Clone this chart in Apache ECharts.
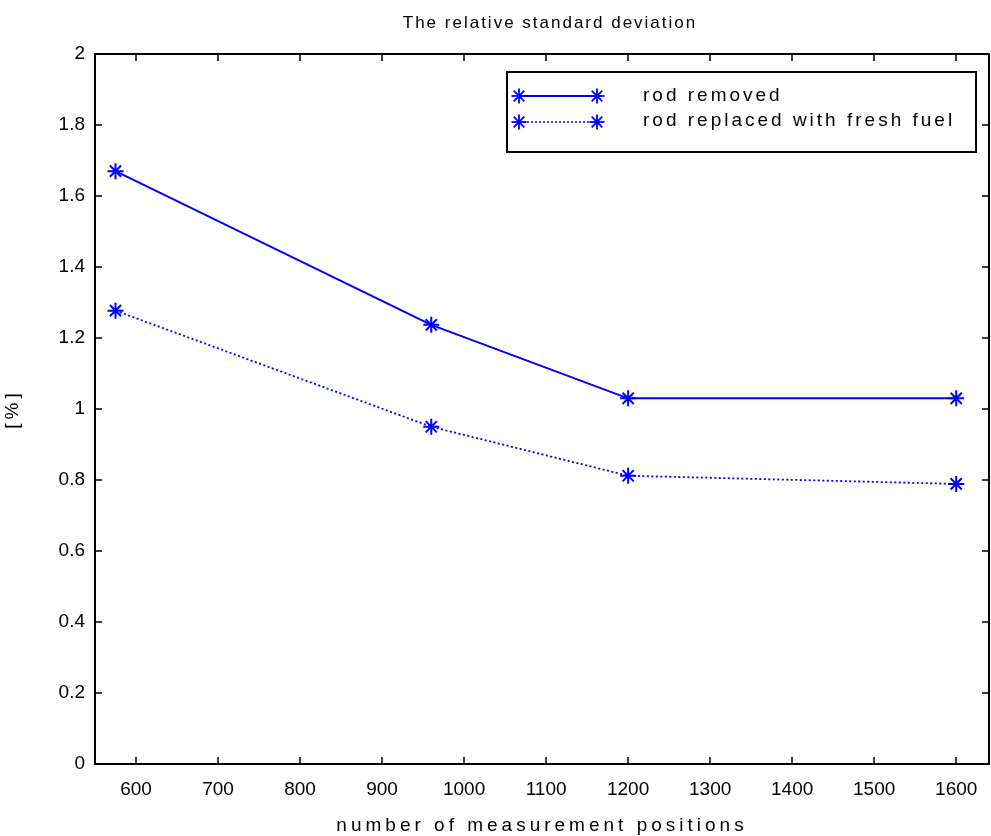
<!DOCTYPE html>
<html>
<head>
<meta charset="utf-8">
<script src="https://cdn.jsdelivr.net/npm/echarts@6/dist/echarts.min.js"></script>
<style>html,body{margin:0;padding:0;background:#fff}#c{width:991px;height:836px}</style>
</head>
<body>
<div id="c"></div>
<script>
const positions = [575, 960, 1200, 1600];
const rodRemoved = [1.670, 1.237, 1.030, 1.030];
const rodReplaced = [1.277, 0.950, 0.812, 0.789];
const xTicks = [600, 700, 800, 900, 1000, 1100, 1200, 1300, 1400, 1500, 1600];
const yTicks = [0, 0.2, 0.4, 0.6, 0.8, 1, 1.2, 1.4, 1.6, 1.8, 2];
const seriesNames = ['rod removed', 'rod replaced with fresh fuel'];
const titleText = 'The relative standard deviation';
const xName = 'number of measurement positions';
const yName = '[%]';

const BLUE = '#0000ff';
const FONT = 'Liberation Sans, Arial, sans-serif';
const STAR = 'path://M0,-10L0,10M-10,0L10,0M-7,-7L7,7M-7,7L7,-7';

// Emulate the wide letter spacing of the original rendering (per text)
const spacing = {};
spacing[titleText] = '2px';
spacing[xName] = '4px';
spacing[yName] = '4px';
spacing[seriesNames[0]] = '3px';
spacing[seriesNames[1]] = '3px';
const origFillText = CanvasRenderingContext2D.prototype.fillText;
CanvasRenderingContext2D.prototype.fillText = function (t, x, y, w) {
  const hasLS = 'letterSpacing' in this;
  const f = this.font;
  if (hasLS) {
    this.letterSpacing = spacing[t] || '0px';
    this.font = f;
  }
  if (w === undefined) origFillText.call(this, t, x, y); else origFillText.call(this, t, x, y, w);
  if (hasLS) {
    this.letterSpacing = '0px';
    this.font = f;
  }
};

const chart = echarts.init(document.getElementById('c'), null, {renderer: 'canvas'});

function starGraphic(x, y) {
  const r = 7.5, d = 5.3;
  const st = {stroke: BLUE, lineWidth: 1.8};
  return [
    {type:'line', z: 110, shape:{x1:x-r,y1:y,x2:x+r,y2:y}, style:st},
    {type:'line', z: 110, shape:{x1:x,y1:y-r,x2:x,y2:y+r}, style:st},
    {type:'line', z: 110, shape:{x1:x-d,y1:y-d,x2:x+d,y2:y+d}, style:st},
    {type:'line', z: 110, shape:{x1:x-d,y1:y+d,x2:x+d,y2:y-d}, style:st}
  ];
}

const axisCommon = {
  axisLine: {show: true, onZero: false, lineStyle: {color: '#000', width: 2}},
  axisTick: {show: true, inside: true, length: 7, lineStyle: {color: '#000', width: 1.5}},
  splitLine: {show: false}
};

chart.setOption({
  animation: false,
  backgroundColor: '#fff',
  title: {
    text: titleText,
    left: 545, top: 10, textAlign: 'center',
    textStyle: {fontFamily: FONT, fontSize: 17, fontWeight: 'normal', color: '#000'}
  },
  grid: {left: 95, right: 2, top: 54, bottom: 72, outerBoundsMode: 'none', containLabel: false},
  xAxis: [
    Object.assign({}, axisCommon, {
      type: 'value', min: 550, max: 1640, position: 'bottom',
      name: xName, nameLocation: 'middle', nameGap: 52,
      nameTextStyle: {fontFamily: FONT, fontSize: 19, color: '#000'},
      axisTick: Object.assign({}, axisCommon.axisTick, {customValues: xTicks}),
      axisLabel: {customValues: xTicks, margin: 16, fontFamily: FONT, fontSize: 19, color: '#000',
        formatter: v => String(v)}
    }),
    Object.assign({}, axisCommon, {
      type: 'value', min: 550, max: 1640, position: 'top',
      axisTick: Object.assign({}, axisCommon.axisTick, {customValues: xTicks}),
      axisLabel: {show: false}
    })
  ],
  yAxis: [
    Object.assign({}, axisCommon, {
      type: 'value', min: 0, max: 2, interval: 0.2, position: 'left',
      name: yName, nameLocation: 'middle', nameGap: 73, nameRotate: 90,
      nameTextStyle: {fontFamily: FONT, fontSize: 19, color: '#000'},
      axisTick: Object.assign({}, axisCommon.axisTick, {customValues: yTicks}),
      axisLabel: {customValues: yTicks, margin: 10, fontFamily: FONT, fontSize: 19, color: '#000',
        formatter: v => String(Math.round(v * 10) / 10)}
    }),
    Object.assign({}, axisCommon, {
      type: 'value', min: 0, max: 2, interval: 0.2, position: 'right',
      axisTick: Object.assign({}, axisCommon.axisTick, {customValues: yTicks}),
      axisLabel: {show: false}
    })
  ],
  series: [
    {
      name: seriesNames[0], type: 'line',
      data: positions.map((x, i) => [x, rodRemoved[i]]),
      symbol: STAR, symbolSize: 16,
      lineStyle: {color: BLUE, width: 2, type: 'solid'},
      itemStyle: {color: BLUE, borderColor: BLUE, borderWidth: 2}
    },
    {
      name: seriesNames[1], type: 'line',
      data: positions.map((x, i) => [x, rodReplaced[i]]),
      symbol: STAR, symbolSize: 16,
      lineStyle: {color: BLUE, width: 1.8, type: [2, 2.5]},
      itemStyle: {color: BLUE, borderColor: BLUE, borderWidth: 2}
    }
  ],
  graphic: [
    {type: 'rect', shape: {x: 507, y: 72, width: 469, height: 80},
     style: {fill: '#fff', stroke: '#000', lineWidth: 2}, z: 100},
    {type: 'line', shape: {x1: 519, y1: 96, x2: 597, y2: 96},
     style: {stroke: BLUE, lineWidth: 2}, z: 101},
    {type: 'line', shape: {x1: 519, y1: 122, x2: 597, y2: 122},
     style: {stroke: BLUE, lineWidth: 1.6, lineDash: [2, 2]}, z: 101},
    ...starGraphic(519, 96),
    ...starGraphic(597, 96),
    ...starGraphic(519, 122),
    ...starGraphic(597, 122),
    {type: 'text', x: 643, y: 96, z: 103,
     style: {text: seriesNames[0], fontFamily: FONT, fontSize: 19, fill: '#000', verticalAlign: 'middle'}},
    {type: 'text', x: 643, y: 121, z: 103,
     style: {text: seriesNames[1], fontFamily: FONT, fontSize: 19, fill: '#000', verticalAlign: 'middle'}}
  ]
});
</script>
</body>
</html>
